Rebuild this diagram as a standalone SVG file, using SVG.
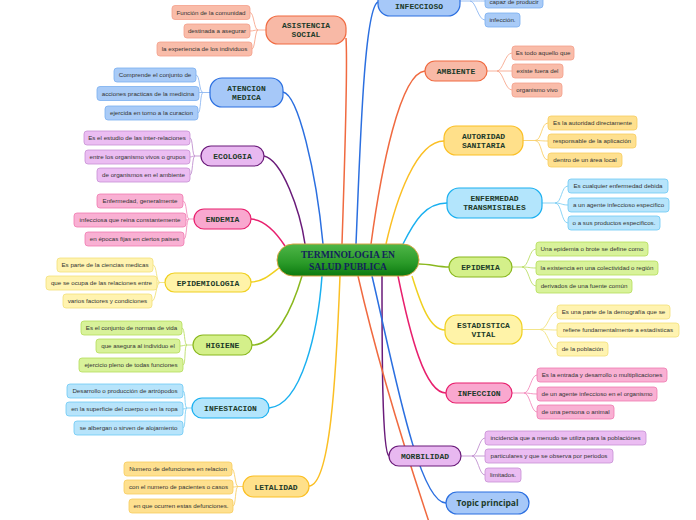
<svg xmlns="http://www.w3.org/2000/svg" width="696" height="520" viewBox="0 0 696 520">
<defs>
<linearGradient id="gc" x1="0" y1="0" x2="0" y2="1">
<stop offset="0" stop-color="#4fb648"/>
<stop offset="0.6" stop-color="#2a9a28"/>
<stop offset="1" stop-color="#0b7a10"/>
</linearGradient>
</defs>
<style>
.mt{font-family:"Liberation Mono","DejaVu Sans Mono",monospace;font-weight:bold;font-size:8px;fill:#1d3b2a;text-anchor:middle}
.st{font-family:"Liberation Sans","Noto Sans",sans-serif;font-size:6.2px;fill:#333;text-anchor:middle}
.ln{fill:none;stroke-width:1.5}
.sl{fill:none;stroke-width:0.9}
.mn{stroke-width:1.2}
.sb{stroke-width:0.8}
.or .mn{fill:#f8b9a6;stroke:#f06a40}.or .sb{fill:#f9bca9;stroke:#f4a08a}
.bl .mn{fill:#a6c8f8;stroke:#2b6fe0}.bl .sb{fill:#a9cbf7;stroke:#7aaef0}
.pu .mn{fill:#e8b8f0;stroke:#6a1b7a}.pu .sb{fill:#ebbdf2;stroke:#c78fd4}
.pk .mn{fill:#f9a8cf;stroke:#e8206e}.pk .sb{fill:#f9b0d3;stroke:#f07ab0}
.ye .mn{fill:#fff3a8;stroke:#f0d020}.ye .sb{fill:#fff3b0;stroke:#f3e07a}
.li .mn{fill:#d4f08a;stroke:#8ab81e}.li .sb{fill:#d8f29a;stroke:#b5dd5a}
.cy .mn{fill:#b3e5fc;stroke:#1ab0f0}.cy .sb{fill:#b7e4fb;stroke:#6cc9f5}
.am .mn{fill:#ffe08a;stroke:#fbbf24}.am .sb{fill:#fee08f;stroke:#f8cd5e}
</style>
<rect width="696" height="520" fill="#ffffff"/>
<g id="connectors">
<path class="ln" stroke="#f06a40" d="M342,244 C345,150 348,70 346,38"/>
<path class="ln" stroke="#2b6fe0" d="M283,92 C298,95 316,170 323,244"/>
<path class="ln" stroke="#6a1b7a" d="M264,156 C282,160 300,210 305,244"/>
<path class="ln" stroke="#e8206e" d="M251,219 C265,220 276,232 285,246"/>
<path class="ln" stroke="#f0d020" d="M251,282 C262,282 270,275 279,268"/>
<path class="ln" stroke="#8ab81e" d="M252,345 C275,345 292,310 302,276"/>
<path class="ln" stroke="#1ab0f0" d="M269,408 C302,405 318,330 322,276"/>
<path class="ln" stroke="#fbbf24" d="M309,486 C330,485 336,380 340,276"/>
<path class="ln" stroke="#2b6fe0" d="M356,244 C360,150 364,8 378,2"/>
<path class="ln" stroke="#f06a40" d="M371,244 C381,170 400,73 425,71"/>
<path class="ln" stroke="#fbbf24" d="M386,244 C396,200 416,141 444,141"/>
<path class="ln" stroke="#1ab0f0" d="M403,244 C415,220 426,203 447,203"/>
<path class="ln" stroke="#8ab81e" d="M419,264 C430,264 438,267 449,267"/>
<path class="ln" stroke="#f0d020" d="M412,276 C421,305 430,330 445,330"/>
<path class="ln" stroke="#e8206e" d="M398,276 C410,335 425,393 446,393"/>
<path class="ln" stroke="#6a1b7a" d="M382,276 C382,350 382,452 389,456"/>
<path class="ln" stroke="#2b6fe0" d="M372,276 C392,360 418,503 446,503"/>
<path class="ln" stroke="#f06a40" d="M358,276 C376,355 405,450 430,525"/>
<g stroke="#f7a88f">
<path class="sl" d="M266,30 H258 C254,30 254,12.5 250,12.5 M258,30 C254,30 254,31 250,31 M258,30 C255,30 255,49 252,49"/>
<path class="sl" d="M487,71 H497 C503,71 505,53 512,53 M497,71 H512 M497,71 C503,71 505,90 512,90"/>
</g>
<g stroke="#8fb8f2">
<path class="sl" d="M210,92.5 H203 C199,92.5 200,75 196,75 M203,92.5 H199 M203,92.5 C200,92.5 201,113 198,113"/>
<path class="sl" d="M460,1 H470 C476,1 478,1 485,1 M470,1 C476,1 478,20 485,20"/>
</g>
<g stroke="#c292d0">
<path class="sl" d="M201,156 H195 C192,156 193,138 190,138 M195,156 C192,156 192,157 190,157 M195,156 C192,156 193,175 190,175"/>
<path class="sl" d="M461,456 H472 C478,456 479,438 485,438 M472,456 H485 M472,456 C478,456 479,475 485,475"/>
</g>
<g stroke="#f38dbd">
<path class="sl" d="M194,219 H189 C186,219 187,201 183,201 M189,219 C188,219 188,220 186,220 M189,219 C186,219 187,239 184,239"/>
<path class="sl" d="M512,393 H524 C530,393 531,375 537,375 M524,393 C530,393 531,394 537,394 M524,393 C530,393 531,412 537,412"/>
</g>
<g stroke="#f2e27c">
<path class="sl" d="M165,282.5 H160 C156,282.5 157,265 153,265 M160,282.5 C158,282.5 158,283 157,283 M160,282.5 C156,282.5 156,301 152,301"/>
<path class="sl" d="M522,329.5 H540 C548,329.5 549,312 557,312 M540,329.5 C548,329.5 549,330 557,330 M540,329.5 C548,329.5 549,349 557,349"/>
</g>
<g stroke="#bcdf6a">
<path class="sl" d="M193,345 H187 C184,345 185,328 182,328 M187,345 C184,345 183,346 180,346 M187,345 C184,345 186,365 183,365"/>
<path class="sl" d="M512,267 H522 C529,267 529,249 536,249 M522,267 C529,267 529,268 536,268 M522,267 C529,267 529,286 536,286"/>
</g>
<g stroke="#7fcff4">
<path class="sl" d="M192,408 H187 C184,408 186,391 183,391 M187,408 C185,408 185,409 183,409 M187,408 C184,408 186,428 183,428"/>
<path class="sl" d="M542,203 H555 C562,203 561,186 568,186 M555,203 C562,203 561,205 568,205 M555,203 C562,203 561,223 568,223"/>
</g>
<g stroke="#f8cf6a">
<path class="sl" d="M243,486.5 H238 C235,486.5 235,469 232,469 M238,486.5 C235,486.5 236,487 233,487 M238,486.5 C235,486.5 236,506 233,506"/>
<path class="sl" d="M523,140.5 H535 C542,140.5 541,123 548,123 M535,140.5 C542,140.5 541,141 548,141 M535,140.5 C542,140.5 541,160 548,160"/>
</g>
</g>
<g id="center">
<rect x="277" y="244" width="142" height="32" rx="16" fill="url(#gc)" stroke="#d8a444" stroke-width="1"/>
<text x="348" y="257.5" font-family="Liberation Serif,serif" font-weight="bold" font-size="9.6" fill="#13235b" text-anchor="middle">TERMINOLOGIA EN</text>
<text x="348" y="269.5" font-family="Liberation Serif,serif" font-weight="bold" font-size="9.6" fill="#13235b" text-anchor="middle">SALUD PUBLICA</text>
</g>
<g id="asistencia" class="or">
<rect class="mn" x="266" y="16" width="80" height="28" rx="12"/>
<text class="mt" x="306" y="28">ASISTENCIA</text><text class="mt" x="306" y="37">SOCIAL</text>
<rect class="sb" x="172" y="5.5" width="78" height="14" rx="3"/><text class="st" x="211" y="14.8">Función de la comunidad</text>
<rect class="sb" x="184" y="24" width="66" height="14" rx="3"/><text class="st" x="217" y="33.3">destinada a asegurar</text>
<rect class="sb" x="157" y="42" width="95" height="14" rx="3"/><text class="st" x="204.5" y="51.3">la experiencia de los individuos</text>
</g>
<g id="atencion" class="bl">
<rect class="mn" x="210" y="78" width="73" height="29" rx="12"/>
<text class="mt" x="246.5" y="90.5">ATENCION</text><text class="mt" x="246.5" y="99.5">MEDICA</text>
<rect class="sb" x="114" y="68" width="82" height="14" rx="3"/><text class="st" x="155" y="77.3">Comprende el conjunto de</text>
<rect class="sb" x="97" y="86.5" width="102" height="14" rx="3"/><text class="st" x="148" y="95.8">acciones practicas de la medicina</text>
<rect class="sb" x="105" y="106" width="93" height="14" rx="3"/><text class="st" x="151.5" y="115.3">ejercida en torno a la curacion</text>
</g>
<g id="ecologia" class="pu">
<rect class="mn" x="201" y="146" width="63" height="20" rx="10"/>
<text class="mt" x="232.5" y="159">ECOLOGIA</text>
<rect class="sb" x="84" y="131" width="106" height="14" rx="3"/><text class="st" x="137" y="140.3">Es el estudio de las inter-relaciones</text>
<rect class="sb" x="85" y="150" width="105" height="14" rx="3"/><text class="st" x="137.5" y="159.3">entre los organismo vivos o grupos</text>
<rect class="sb" x="97" y="168" width="93" height="14" rx="3"/><text class="st" x="143.5" y="177.3">de organismos en el ambiente</text>
</g>
<g id="endemia" class="pk">
<rect class="mn" x="194" y="209" width="57" height="20" rx="10"/>
<text class="mt" x="222.5" y="222">ENDEMIA</text>
<rect class="sb" x="97" y="194" width="86" height="14" rx="3"/><text class="st" x="140" y="203.3">Enfermedad, generalmente</text>
<rect class="sb" x="74" y="213" width="112" height="14" rx="3"/><text class="st" x="130" y="222.3">infecciosa que reina constantemente</text>
<rect class="sb" x="85" y="232" width="99" height="14" rx="3"/><text class="st" x="134.5" y="241.3">en épocas fijas en ciertos paises</text>
</g>
<g id="epidemiologia" class="ye">
<rect class="mn" x="165" y="273" width="86" height="19" rx="9.5"/>
<text class="mt" x="208" y="285.5">EPIDEMIOLOGIA</text>
<rect class="sb" x="57" y="258" width="96" height="14" rx="3"/><text class="st" x="105" y="267.3">Es parte de la ciencias medicas</text>
<rect class="sb" x="46" y="276" width="111" height="14" rx="3"/><text class="st" x="101.5" y="285.3">que se ocupa de las relaciones entre</text>
<rect class="sb" x="63" y="294" width="89" height="14" rx="3"/><text class="st" x="107.5" y="303.3">varios factores y condiciones</text>
</g>
<g id="higiene" class="li">
<rect class="mn" x="193" y="335" width="59" height="20" rx="10"/>
<text class="mt" x="222.5" y="348">HIGIENE</text>
<rect class="sb" x="81" y="321" width="101" height="14" rx="3"/><text class="st" x="131.5" y="330.3">Es el conjunto de normas de vida</text>
<rect class="sb" x="96" y="339" width="84" height="14" rx="3"/><text class="st" x="138" y="348.3">que asegura al individuo el</text>
<rect class="sb" x="79" y="358" width="104" height="14" rx="3"/><text class="st" x="131" y="367.3">ejercicio pleno de todas funciones</text>
</g>
<g id="infestacion" class="cy">
<rect class="mn" x="192" y="398" width="77" height="20" rx="10"/>
<text class="mt" x="230.5" y="411">INFESTACION</text>
<rect class="sb" x="67" y="384" width="116" height="14" rx="3"/><text class="st" x="125" y="393.3">Desarrollo o producción de artrópodos</text>
<rect class="sb" x="66" y="402" width="117" height="14" rx="3"/><text class="st" x="124.5" y="411.3">en la superficie del cuerpo o en la ropa</text>
<rect class="sb" x="74" y="421" width="109" height="14" rx="3"/><text class="st" x="128.5" y="430.3">se albergan o sirven  de alojamiento</text>
</g>
<g id="letalidad" class="am">
<rect class="mn" x="243" y="476" width="66" height="21" rx="10.5"/>
<text class="mt" x="276" y="489.5">LETALIDAD</text>
<rect class="sb" x="124" y="462" width="108" height="14" rx="3"/><text class="st" x="178" y="471.3">Numero de defunciones en relacion</text>
<rect class="sb" x="124" y="480" width="109" height="14" rx="3"/><text class="st" x="178.5" y="489.3">con el numero de pacientes  o casos</text>
<rect class="sb" x="129" y="499" width="104" height="14" rx="3"/><text class="st" x="181" y="508.3">en que ocurren estas defunciones.</text>
</g>
<g id="infeccioso" class="bl">
<rect class="mn" x="378" y="-14" width="82" height="30" rx="12"/>
<text class="mt" x="419" y="8.5">INFECCIOSO</text>
<rect class="sb" x="485" y="-6" width="58" height="14" rx="3"/><text class="st" x="514" y="3.8">capaz de producir</text>
<rect class="sb" x="485" y="13" width="35" height="14" rx="3"/><text class="st" x="502.5" y="22.3">infección.</text>
</g>
<g id="ambiente" class="or">
<rect class="mn" x="425" y="61" width="62" height="20" rx="10"/>
<text class="mt" x="456" y="74">AMBIENTE</text>
<rect class="sb" x="512" y="46" width="62" height="14" rx="3"/><text class="st" x="543" y="55.3">Es todo aquello que</text>
<rect class="sb" x="512" y="64" width="51" height="14" rx="3"/><text class="st" x="537.5" y="73.3">existe fuera del</text>
<rect class="sb" x="512" y="83" width="50" height="14" rx="3"/><text class="st" x="537" y="92.3">organismo vivo</text>
</g>
<g id="autoridad" class="am">
<rect class="mn" x="444" y="126" width="79" height="29" rx="12"/>
<text class="mt" x="483.5" y="138.5">AUTORIDAD</text><text class="mt" x="483.5" y="147.5">SANITARIA</text>
<rect class="sb" x="548" y="116" width="89" height="14" rx="3"/><text class="st" x="592.5" y="125.3">Es la autoridad directamente</text>
<rect class="sb" x="548" y="134" width="88" height="14" rx="3"/><text class="st" x="592" y="143.3">responsable de la aplicación</text>
<rect class="sb" x="548" y="153" width="74" height="14" rx="3"/><text class="st" x="585" y="162.3">dentro de un área local</text>
</g>
<g id="enfermedad" class="cy">
<rect class="mn" x="447" y="188" width="95" height="30" rx="12"/>
<text class="mt" x="494.5" y="201">ENFERMEDAD</text><text class="mt" x="494.5" y="210">TRANSMISIBLES</text>
<rect class="sb" x="568" y="179" width="100" height="14" rx="3"/><text class="st" x="618" y="188.3">Es cualquier enfermedad debida</text>
<rect class="sb" x="568" y="198" width="101" height="14" rx="3"/><text class="st" x="618.5" y="207.3">a un agente infeccioso especifico</text>
<rect class="sb" x="568" y="216" width="92" height="14" rx="3"/><text class="st" x="614" y="225.3">o a sus productos especificos.</text>
</g>
<g id="epidemia" class="li">
<rect class="mn" x="449" y="257" width="63" height="20" rx="10"/>
<text class="mt" x="480.5" y="270">EPIDEMIA</text>
<rect class="sb" x="536" y="242" width="112" height="14" rx="3"/><text class="st" x="592" y="251.3">Una epidemia o brote se define como</text>
<rect class="sb" x="536" y="261" width="122" height="14" rx="3"/><text class="st" x="597" y="270.3">la existencia en una colectividad o región</text>
<rect class="sb" x="536" y="279" width="96" height="14" rx="3"/><text class="st" x="584" y="288.3">derivados de una fuente común</text>
</g>
<g id="estadistica" class="ye">
<rect class="mn" x="445" y="315" width="77" height="29" rx="12"/>
<text class="mt" x="483.5" y="327.5">ESTADISTICA</text><text class="mt" x="483.5" y="336.5">VITAL</text>
<rect class="sb" x="557" y="305" width="113" height="14" rx="3"/><text class="st" x="613.5" y="314.3">Es una parte de la demografía que se</text>
<rect class="sb" x="557" y="323" width="122" height="14" rx="3"/><text class="st" x="618" y="332.3">refiere fundamentalmente a estadísticas</text>
<rect class="sb" x="557" y="342" width="51" height="14" rx="3"/><text class="st" x="582.5" y="351.3">de la población</text>
</g>
<g id="infeccion" class="pk">
<rect class="mn" x="446" y="383" width="66" height="20" rx="10"/>
<text class="mt" x="479" y="396">INFECCION</text>
<rect class="sb" x="537" y="368" width="130" height="14" rx="3"/><text class="st" x="602" y="377.3">Es la entrada y desarrollo o multiplicaciones</text>
<rect class="sb" x="537" y="387" width="120" height="14" rx="3"/><text class="st" x="597" y="396.3">de un agente infeccioso en el organismo</text>
<rect class="sb" x="537" y="405" width="77" height="14" rx="3"/><text class="st" x="575.5" y="414.3">de una persona o animal</text>
</g>
<g id="morbilidad" class="pu">
<rect class="mn" x="389" y="446" width="72" height="20" rx="10"/>
<text class="mt" x="425" y="459">MORBILIDAD</text>
<rect class="sb" x="485" y="431" width="161" height="14" rx="3"/><text class="st" x="565.5" y="440.3">incidencia que a menudo se utiliza para la poblaciónes</text>
<rect class="sb" x="485" y="449" width="128" height="14" rx="3"/><text class="st" x="549" y="458.3">particulares y que se observa por periodos</text>
<rect class="sb" x="485" y="468" width="36" height="14" rx="3"/><text class="st" x="503" y="477.3">limitados.</text>
</g>
<g id="topic" class="bl">
<rect class="mn" x="446" y="492" width="83" height="22" rx="11"/>
<text x="487.5" y="506" font-family="Open Sans,Liberation Sans,sans-serif" font-weight="bold" font-size="8.5" fill="#1d3b2a" text-anchor="middle">Topic principal</text>
</g>
</svg>
